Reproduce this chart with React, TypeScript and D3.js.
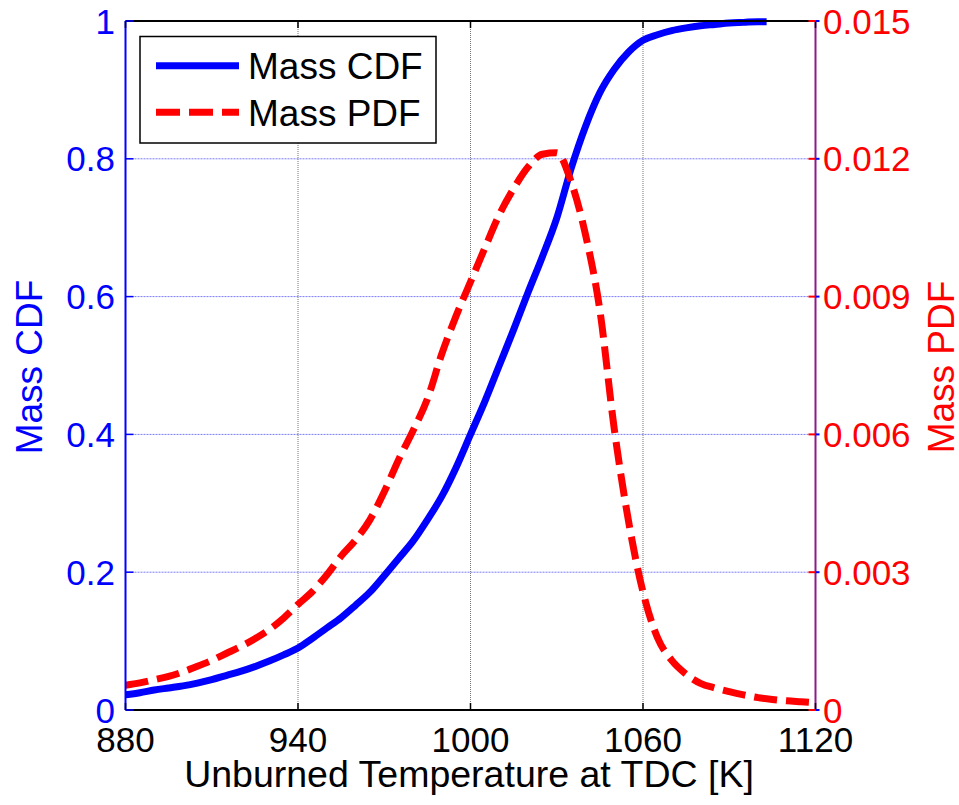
import React from 'react';
import * as d3 from 'd3';

const cdfTemps = [880, 885, 890, 895, 900, 905, 910, 915, 920, 925, 930, 935, 940, 945, 950, 955, 960, 965, 970, 975, 980, 985, 990, 995, 1000, 1005, 1010, 1015, 1020, 1025, 1030, 1035, 1040, 1045, 1050, 1055, 1060, 1065, 1070, 1075, 1080, 1085, 1090, 1095, 1100, 1103];
const cdfValues = [0.022, 0.025, 0.029, 0.032, 0.035, 0.039, 0.044, 0.05, 0.056, 0.063, 0.071, 0.08, 0.09, 0.104, 0.119, 0.134, 0.152, 0.171, 0.195, 0.22, 0.245, 0.276, 0.31, 0.352, 0.4, 0.448, 0.5, 0.552, 0.606, 0.658, 0.714, 0.786, 0.847, 0.896, 0.93, 0.955, 0.972, 0.98, 0.986, 0.99, 0.993, 0.995, 0.997, 0.998, 0.999, 0.999];

const pdfTemps = [880, 885, 890, 895, 900, 905, 910, 915, 920, 925, 930, 935, 940, 945, 950, 955, 960, 965, 970, 975, 980, 985, 990, 995, 1000, 1005, 1010, 1015, 1020, 1025, 1030, 1035, 1040, 1045, 1050, 1055, 1060, 1065, 1070, 1075, 1080, 1085, 1090, 1095, 1100, 1105, 1110, 1115, 1120];
const pdfValues = [0.00054, 0.00059, 0.00066, 0.00073, 0.00083, 0.00095, 0.00108, 0.00123, 0.00138, 0.00155, 0.00175, 0.002, 0.0023, 0.00258, 0.00294, 0.00335, 0.0037, 0.00414, 0.00475, 0.00545, 0.00608, 0.00677, 0.00775, 0.00858, 0.00932, 0.01006, 0.01078, 0.01135, 0.01182, 0.0121, 0.01213, 0.0115, 0.01035, 0.0087, 0.00612, 0.0041, 0.00257, 0.00158, 0.00108, 0.00078, 0.00058, 0.00048, 0.0004, 0.00033, 0.00027, 0.00023, 0.0002, 0.00018, 0.00016];

const xTicks = [880, 940, 1000, 1060, 1120];
const cdfTicks = [0, 0.2, 0.4, 0.6, 0.8, 1];
const cdfTickLabels = ['0', '0.2', '0.4', '0.6', '0.8', '1'];
const pdfTicks = [0, 0.003, 0.006, 0.009, 0.012, 0.015];
const pdfTickLabels = ['0', '0.003', '0.006', '0.009', '0.012', '0.015'];
const legendLabels = ['Mass CDF', 'Mass PDF'];

const W = 959, H = 805;
const L = 125.5, R = 815.5, T = 21, B = 710;
const FONT = "'Liberation Sans', Arial, Helvetica, sans-serif";

export default function App() {
  const x = d3.scaleLinear().domain([880, 1120]).range([L, R]);
  const yC = d3.scaleLinear().domain([0, 1]).range([B, T]);
  const yP = d3.scaleLinear().domain([0, 0.015]).range([B, T]);

  const cdfLine = d3.line<number>()
    .x((_, i) => x(cdfTemps[i]))
    .y((d) => yC(d))
    .curve(d3.curveMonotoneX)(cdfValues) as string;
  const pdfLine = d3.line<number>()
    .x((_, i) => x(pdfTemps[i]))
    .y((d) => yP(d))
    .curve(d3.curveMonotoneX)(pdfValues) as string;

  return (
    <svg width={W} height={H} style={{ position: 'absolute', left: 0, top: 0, background: '#fff' }} fontFamily={FONT}>
      <rect x={0} y={0} width={W} height={H} fill="#fff" />
      {/* grid */}
      {xTicks.slice(1, -1).map((t) => (
        <line key={'gx' + t} x1={x(t)} x2={x(t)} y1={T} y2={B} stroke="#777" strokeWidth={1} strokeDasharray="1,1" />
      ))}
      {cdfTicks.slice(1, -1).map((t) => (
        <line key={'gy' + t} x1={L} x2={R} y1={yC(t)} y2={yC(t)} stroke="#7b7bff" strokeWidth={1} strokeDasharray="2,1" />
      ))}
      <defs>
        <clipPath id="plotclip">
          <rect x={L} y={T - 6} width={R - L} height={B - T + 6} />
        </clipPath>
      </defs>
      <g clipPath="url(#plotclip)">
        <path d={cdfLine} fill="none" stroke="#0000ff" strokeWidth={7} strokeLinejoin="round" />
        <path d={pdfLine} fill="none" stroke="#ff0000" strokeWidth={7} strokeDasharray="23,9" />
      </g>
      {/* box */}
      <line x1={L} x2={R} y1={T} y2={T} stroke="#000" strokeWidth={2} />
      <line x1={L} x2={R} y1={B} y2={B} stroke="#000" strokeWidth={2} />
      <line x1={L} x2={L} y1={T} y2={B} stroke="#0000ff" strokeWidth={2} />
      <line x1={R} x2={R} y1={T} y2={B} stroke="#8b1a8b" strokeWidth={2} />
      {/* x ticks */}
      {xTicks.map((t) => (
        <g key={'xt' + t}>
          <line x1={x(t)} x2={x(t)} y1={B} y2={B - 7} stroke="#000" strokeWidth={1.5} />
          <line x1={x(t)} x2={x(t)} y1={T} y2={T + 7} stroke="#000" strokeWidth={1.5} />
          <text x={x(t)} y={752} textAnchor="middle" fontSize={35} fill="#000">{t}</text>
        </g>
      ))}
      {/* left ticks */}
      {cdfTicks.map((t, i) => (
        <g key={'yl' + t}>
          <line x1={L} x2={L + 8} y1={yC(t)} y2={yC(t)} stroke="#0000ff" strokeWidth={1.5} />
          <line x1={R} x2={R + 4} y1={yC(t)} y2={yC(t)} stroke="#0000ff" strokeWidth={2} />
          <text x={115} y={yC(t)} dy="0.36em" textAnchor="end" fontSize={35} fill="#0000ff">{cdfTickLabels[i]}</text>
        </g>
      ))}
      {/* right ticks */}
      {pdfTicks.map((t, i) => (
        <g key={'yr' + t}>
          <line x1={R - 7} x2={R} y1={yP(t)} y2={yP(t)} stroke="#ff0000" strokeWidth={2} />
          <text x={823} y={yP(t)} dy="0.36em" textAnchor="start" fontSize={35} fill="#ff0000">{pdfTickLabels[i]}</text>
        </g>
      ))}
      {/* axis labels */}
      <text x={469} y={787} textAnchor="middle" fontSize={37.5} fill="#000">Unburned Temperature at TDC [K]</text>
      <text transform={`translate(42,367) rotate(-90)`} textAnchor="middle" fontSize={37} fill="#0000ff">Mass CDF</text>
      <text transform={`translate(954,367) rotate(-90)`} textAnchor="middle" fontSize={37} fill="#ff0000">Mass PDF</text>
      {/* legend */}
      <rect x={140} y={36.5} width={296} height={106.5} fill="#fff" stroke="#000" strokeWidth={1.5} />
      <line x1={156} x2={239} y1={65.7} y2={65.7} stroke="#0000ff" strokeWidth={7} />
      <line x1={156} x2={239} y1={112.3} y2={112.3} stroke="#ff0000" strokeWidth={7} strokeDasharray="24,9" />
      <text x={248} y={65.7} dy="0.36em" fontSize={37} fill="#000">{legendLabels[0]}</text>
      <text x={248} y={112.3} dy="0.36em" fontSize={37} fill="#000">{legendLabels[1]}</text>
    </svg>
  );
}
